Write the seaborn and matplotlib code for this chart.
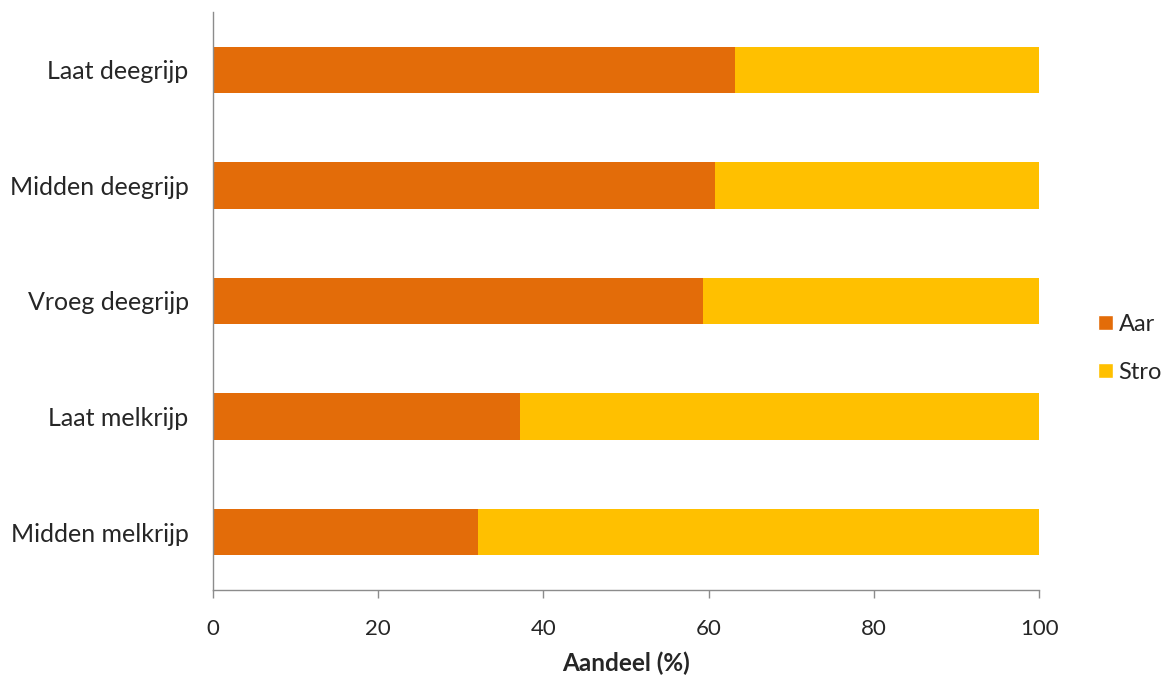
import matplotlib
matplotlib.use("Agg")
import matplotlib.pyplot as plt
import seaborn as sns
import pandas as pd
from matplotlib.patches import Patch

stages = ["Laat deegrijp", "Midden deegrijp", "Vroeg deegrijp",
          "Laat melkrijp", "Midden melkrijp"]
aar = [63.2, 60.8, 59.3, 37.2, 32.1]
stro = [36.8, 39.2, 40.7, 62.8, 67.9]

colors = {"Aar": "#E36C09", "Stro": "#FFC000"}

df = pd.DataFrame({"stadium": stages, "Aar": aar, "Stro": stro})
df["totaal"] = df["Aar"] + df["Stro"]

sns.set_style("white")
plt.rcParams["font.family"] = ["Lato", "DejaVu Sans"]

fig = plt.figure(figsize=(11.71, 6.77), dpi=100)
ax = fig.add_axes([0.1819, 0.1285, 0.7054, 0.8538])

# stacked bars: full total in the second colour, first segment on top
sns.barplot(data=df, y="stadium", x="totaal", color=colors["Stro"],
            width=0.4, linewidth=0, saturation=1, ax=ax, orient="h")
sns.barplot(data=df, y="stadium", x="Aar", color=colors["Aar"],
            width=0.4, linewidth=0, saturation=1, ax=ax, orient="h")

ax.set_xlim(0, 100)
ax.set_ylim(4.5, -0.5)
ax.set_xticks([0, 20, 40, 60, 80, 100])
ax.set_ylabel("")
ax.set_xlabel("Aandeel (%)", fontsize=17.5, fontweight="bold", labelpad=9)

for side in ("top", "right"):
    ax.spines[side].set_visible(False)
for side in ("left", "bottom"):
    ax.spines[side].set_color("#8c8c8c")
    ax.spines[side].set_linewidth(1.0)

ax.tick_params(axis="x", which="both", bottom=True, length=6, width=1,
               color="#8c8c8c", labelsize=16, pad=15)
ax.tick_params(axis="y", left=False, labelsize=18, pad=14)

handles = [Patch(facecolor=colors["Aar"], label="Aar"),
           Patch(facecolor=colors["Stro"], label="Stro")]
fig.legend(handles=handles, loc="center left", bbox_to_anchor=(0.930, 0.485),
           frameon=False, fontsize=17, handlelength=0.6, handleheight=0.6,
           handletextpad=0.25, labelspacing=1.15, borderaxespad=0)

fig.savefig("out.png", dpi=100)
